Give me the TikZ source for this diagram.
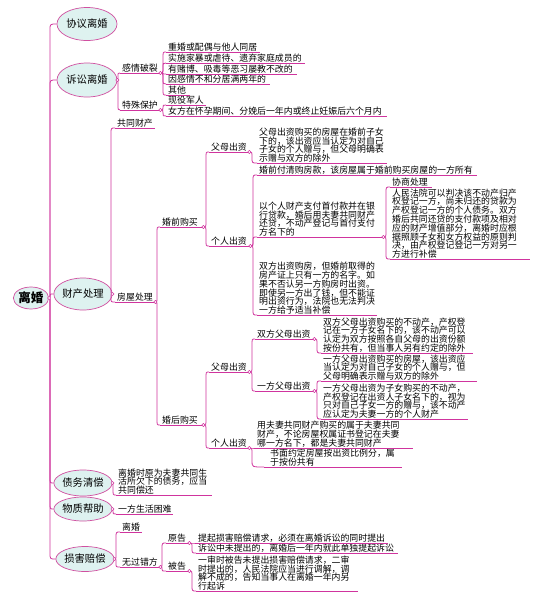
\documentclass[tikz,border=0pt]{standalone}
\usepackage{fontspec}
\setmainfont{Noto Sans CJK SC}
\usetikzlibrary{shapes.geometric,calc}
\definecolor{lc}{RGB}{208,52,158}
\definecolor{ellf}{RGB}{222,242,240}
\definecolor{ellb}{RGB}{208,80,160}
\newcommand\cn[3]{\draw[ln] let \p1=(#1), \p2=(#2), \n2={sign(\y2-\y1)*min(6,abs(\y2-\y1)/2)} in (\p1) .. controls ({#3pt},{\y1}) .. ({#3pt},{\y1+(\n2)}) -- ({#3pt},{\y2-(\n2)}) .. controls ({#3pt},{\y2}) .. (\p2);}
\begin{document}
\begin{tikzpicture}[x=1pt,y=-1pt,
  ell/.style={ellipse, draw=ellb, fill=ellf, line width=0.7pt, inner sep=0pt, font=\fontsize{10.3}{11}\selectfont},
  tp/.style={anchor=south west, inner xsep=2pt, inner ysep=0.3pt, align=left, font=\fontsize{8.9}{8.8}\selectfont},
  ul/.style={draw=lc, line width=0.8pt},
  ln/.style={draw=lc, line width=0.8pt},
  dotc/.style={draw=lc, fill=white, line width=0.5pt}]
\useasboundingbox (0,0) rectangle (535,598);
\fill[white] (0,0) rectangle (535,598);

% level 1
\node[ell, minimum width=35pt, minimum height=22pt, font=\fontsize{12.5}{13}\selectfont\bfseries] (root) at (31,298) {离婚};
\node[ell, minimum width=60pt, minimum height=33pt] (e1) at (87,24) {协议离婚};
\node[ell, minimum width=60pt, minimum height=34pt] (e2) at (87,80) {诉讼离婚};
\node[ell, minimum width=52pt, minimum height=32pt] (e3) at (83,294) {财产处理};
\node[ell, minimum width=54pt, minimum height=26pt] (e4) at (83,483) {债务清偿};
\node[ell, minimum width=54pt, minimum height=24pt] (e5) at (83,509) {物质帮助};
\node[ell, minimum width=56pt, minimum height=25pt] (e6) at (85,559) {损害赔偿};

% level 2
\node[tp, text width=36pt] (gqpl) at (120,73) {感情破裂};
\node[tp, text width=36pt] (tsbh) at (120,110) {特殊保护};
\node[tp, text width=36pt] (gtcc) at (115,128) {共同财产};
\node[tp, text width=36pt] (fwcl) at (115,302) {房屋处理};
\node[tp, text width=92pt] (zw) at (116,495) {离婚时原为夫妻共同生\\活所欠下的债务，应当\\共同偿还};
\node[tp, text width=53pt] (knbz) at (116,514) {一方生活困难};
\node[tp, text width=18pt] (lh) at (120,532) {离婚};
\node[tp, text width=36pt] (wgcf) at (120,567) {无过错方};

% level 3
\node[tp, text width=90pt] (c1) at (166,52) {重婚或配偶与他人同居};
\node[tp, text width=135pt] (c2) at (166,63) {实施家暴或虐待、遗弃家庭成员的};
\node[tp, text width=127pt] (c3) at (166,74) {有赌博、吸毒等恶习屡教不改的};
\node[tp, text width=100pt] (c4) at (166,84) {因感情不和分居满两年的};
\node[tp, text width=20pt] (c5) at (166,95) {其他};
\node[tp, text width=36pt] (xyjr) at (166,105) {现役军人};
\node[tp, text width=217pt] (nf) at (166,116) {女方在怀孕期间、分娩后一年内或终止妊娠后六个月内};
\node[tp, text width=39pt] (hqgm) at (160,227) {婚前购买};
\node[tp, text width=39pt] (hhgm) at (160,425) {婚后购买};
\node[tp, text width=19pt] (yg) at (166,543) {原告};
\node[tp, text width=19pt] (bg) at (166,571) {被告};

% level 4
\node[tp, text width=36pt] (fmcz1) at (209,152) {父母出资};
\node[tp, text width=37pt] (grcz1) at (209,246) {个人出资};
\node[tp, text width=36pt] (fmcz2) at (209,372) {父母出资};
\node[tp, text width=36pt] (grcz2) at (209,448) {个人出资};
\node[tp, text width=188pt] (yg1) at (196,543) {提起损害赔偿请求，必须在离婚诉讼的同时提出};
\node[tp, text width=198pt] (yg2) at (196,553) {诉讼中未提出的，离婚后一年内就此单独提起诉讼};
\node[tp, text width=158pt] (bg1) at (196,591) {一审时被告未提出损害赔偿请求，二审\\时提出的，人民法院应当进行调解，调\\解不成的，告知当事人在离婚一年内另\\行起诉};

% level 5
\node[tp, text width=126pt] (p1) at (257,163) {父母出资购买的房屋在婚前子女\\下的，该出资应当认定为对自己\\子女的个人赠与，但父母明确表\\示赠与双方的除外};
\node[tp, text width=216pt] (p2) at (257,175) {婚前付清购房款，该房屋属于婚前购买房屋的一方所有};
\node[tp, text width=122pt] (p3) at (257,237) {以个人财产支付首付款并在银\\行贷款，婚后用夫妻共同财产\\还贷，不动产登记与首付支付\\方名下的};
\node[tp, text width=116pt] (p4) at (257,315) {双方出资购房，但婚前取得的\\房产证上只有一方的名字。如\\果不否认另一方购房时出资。\\即使另一方出了钱，但不能证\\明出资行为，法院也无法判决\\一方给予适当补偿};
\node[tp, text width=55pt] (sfm) at (255,339) {双方父母出资};
\node[tp, text width=55pt] (yfm) at (255,391) {一方父母出资};
\node[tp, text width=154pt] (pc) at (255,448) {用夫妻共同财产购买的属于夫妻共同\\财产，不论房屋权属证书登记在夫妻\\哪一方名下，都是夫妻共同财产};
\node[tp, text width=126pt, inner xsep=6pt] (pd) at (264,467) {书面约定房屋按出资比例分，属\\于按份共有};

% level 6
\node[tp, text width=38pt] (xscl) at (390,187) {协商处理};
\node[tp, text width=136pt] (rmfy) at (390,259) {人民法院可以判决该不动产归产\\权登记一方，尚未归还的贷款为\\产权登记一方的个人债务。双方\\婚后共同还贷的支付款项及相对\\应的财产增值部分，离婚时应根\\据照顾子女和女方权益的原则判\\决，由产权登记登记一方对另一\\方进行补偿};
\node[tp, text width=148pt] (sfma) at (321,353) {双方父母出资购买的不动产，产权登\\记在一方子女名下的，该不动产可以\\认定为双方按照各自父母的出资份额\\按份共有，但当事人另有约定的除外};
\node[tp, text width=152pt] (yfma) at (321,381) {一方父母出资购买的房屋，该出资应\\当认定为对自己子女的个人赠与，但\\父母明确表示赠与双方的除外};
\node[tp, text width=143pt] (yfmb) at (321,419) {一方父母出资为子女购买的不动产，\\产权登记在出资人子女名下的，视为\\只对自己子女一方的赠与，该不动产\\应认定为夫妻一方的个人财产};

% underlines
\foreach \n in {gqpl,tsbh,gtcc,fwcl,zw,knbz,lh,wgcf,c1,c2,c3,c4,c5,xyjr,nf,hqgm,hhgm,yg,bg,fmcz1,grcz1,fmcz2,grcz2,yg1,yg2,bg1,p1,p2,p3,p4,sfm,yfm,pc,pd,xscl,rmfy,sfma,yfma,yfmb}
  \draw[ul] (\n.south west) -- (\n.south east);

% connectors
\foreach \e in {e1,e2,e3,e4,e5,e6} {\cn{root.east}{\e.west}{50}}
\foreach \c in {gqpl,tsbh} {\cn{e2.east}{\c.south west}{118}}
\foreach \c in {c1,c2,c3,c4,c5} {\cn{gqpl.south east}{\c.south west}{163}}
\foreach \c in {xyjr,nf} {\cn{tsbh.south east}{\c.south west}{163}}
\foreach \c in {gtcc,fwcl} {\cn{e3.east}{\c.south west}{111}}
\foreach \c in {hqgm,hhgm} {\cn{fwcl.south east}{\c.south west}{157}}
\foreach \c in {fmcz1,grcz1} {\cn{hqgm.south east}{\c.south west}{206}}
\cn{fmcz1.south east}{p1.south west}{252}
\foreach \c in {p2,p3,p4} {\cn{grcz1.south east}{\c.south west}{253}}
\foreach \c in {xscl,rmfy} {\cn{p3.south east}{\c.south west}{386}}
\foreach \c in {fmcz2,grcz2} {\cn{hhgm.south east}{\c.south west}{206}}
\foreach \c in {sfm,yfm} {\cn{fmcz2.south east}{\c.south west}{252}}
\cn{sfm.south east}{sfma.south west}{317}
\foreach \c in {yfma,yfmb} {\cn{yfm.south east}{\c.south west}{317}}
\foreach \c in {pc,pd} {\cn{grcz2.south east}{\c.south west}{252}}
\cn{e4.east}{zw.south west}{113}
\cn{e5.east}{knbz.south west}{113}
\foreach \c in {lh,wgcf} {\cn{e6.east}{\c.south west}{116}}
\foreach \c in {yg,bg} {\cn{wgcf.south east}{\c.south west}{162}}
\foreach \c in {yg1,yg2} {\cn{yg.south east}{\c.south west}{192}}
\cn{bg.south east}{bg1.south west}{192}

% junction dots
\foreach \a in {root.east,e2.east,e3.east,e4.east,e5.east,e6.east,gqpl.south east,tsbh.south east,fwcl.south east,hqgm.south east,hhgm.south east,fmcz1.south east,grcz1.south east,p3.south east,fmcz2.south east,sfm.south east,yfm.south east,grcz2.south east,wgcf.south east,yg.south east,bg.south east}
  \draw[dotc] (\a) circle (1.6pt);
\end{tikzpicture}
\end{document}
